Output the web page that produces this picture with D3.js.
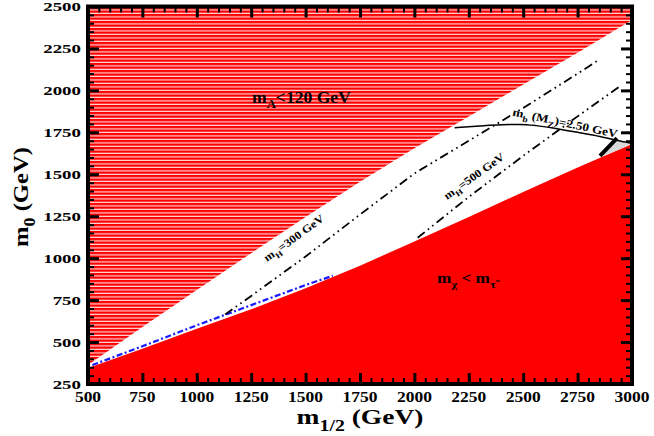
<!DOCTYPE html>
<html><head><meta charset="utf-8">
<script src="https://cdn.jsdelivr.net/npm/d3@7"></script>
<style>body{margin:0;background:#fff}</style>
</head><body><svg id="c" width="654" height="436"></svg>
<script>
// ---------- data ----------
const xTickValues = [500,750,1000,1250,1500,1750,2000,2250,2500,2750,3000];
const yTickValues = [250,500,750,1000,1250,1500,1750,2000,2250,2500];
const gridM12 = [500,750,1000,1250,1500,1750,2000,2250,2500,2750,3000];
const staulspM0 = [345,460,580,695,820,955,1100,1245,1395,1540,1680];   // m_chi < m_stau boundary
const mA120M0 = [363,590,810,1030,1245,1455,1655,1845,2035,2225,2420];  // m_A < 120 GeV boundary
const mH300M12 = [1130,1250,1500,1750,2000,2250,2500,2750,2843];
const mH300M0  = [665,775,1010,1260,1505,1700,1895,2100,2178];
const mH500M12 = [2015,2250,2500,2750,2945];
const mH500M0  = [1122,1365,1610,1845,2025];
const blueM12 = [520,750,1000,1250,1500,1625];
const blueM0  = [363,475,600,720,840,895];
const mbM12 = [2185,2300,2400,2484,2560,2655,2750,2853,2950,3000];
const mbM0  = [1778,1788,1795,1797,1790,1772,1750,1725,1697,1685];
const thickM12 = [2853,2931];
const thickM0  = [1610,1715];
const greyM12 = [2860,2930,3000,3000];
const greyM0  = [1605,1705,1686,1680];

// ---------- setup ----------
const svg = d3.select("#c");
const FONT = "'Liberation Serif','Times New Roman',serif";
const x = d3.scaleLinear().domain([500,3000]).range([88,632]);
const y = d3.scaleLinear().domain([250,2500]).range([384,6.5]);
const zip = (a,b) => a.map((v,i)=>[v,b[i]]);
const line = d3.line().x(d=>x(d[0])).y(d=>y(d[1]));

const defs = svg.append("defs");
defs.append("clipPath").attr("id","clip").append("rect")
  .attr("x",x(500)).attr("y",y(2500)).attr("width",x(3000)-x(500)).attr("height",y(250)-y(2500));
const pat = defs.append("pattern").attr("id","hatch").attr("patternUnits","userSpaceOnUse")
  .attr("width",20).attr("height",3.5);
pat.append("rect").attr("width",20).attr("height",3.5).attr("fill","#ffd8d8");
pat.append("rect").attr("width",20).attr("height",2.3).attr("fill","#ff0000");

const plot = svg.append("g").attr("clip-path","url(#clip)");

// hatched m_A < 120 region
const hatchPts = zip(gridM12, mA120M0).concat([[3000,2500],[500,2500]]);
plot.append("path").attr("d", line(hatchPts)+"Z").attr("fill","url(#hatch)");

// red m_chi < m_stau region
const redPts = zip(gridM12, staulspM0).concat([[3000,250],[500,250]]);
plot.append("path").attr("d", line(redPts)+"Z").attr("fill","#ff0000");

// grey wedge
plot.append("path").attr("d", line(zip(greyM12,greyM0))+"Z").attr("fill","#d8d8d8");

// lines
plot.append("path").attr("d", line(zip(blueM12,blueM0))).attr("fill","none")
  .attr("stroke","#1a1aff").attr("stroke-width",2.2).attr("stroke-dasharray","6,2.5,2,2.5");
plot.append("path").attr("d", line(zip(mH300M12,mH300M0))).attr("fill","none")
  .attr("stroke","#000").attr("stroke-width",1.8).attr("stroke-dasharray","9,4,1.6,4,1.6,4");
plot.append("path").attr("d", line(zip(mH500M12,mH500M0))).attr("fill","none")
  .attr("stroke","#000").attr("stroke-width",1.8).attr("stroke-dasharray","9,4,1.6,4,1.6,4");
plot.append("path").attr("d", line(zip(mbM12,mbM0).map(d=>d))).attr("fill","none")
  .attr("stroke","#000").attr("stroke-width",1.5).attr("d", d3.line().curve(d3.curveMonotoneX).x(d=>x(d[0])).y(d=>y(d[1]))(zip(mbM12,mbM0)));
plot.append("path").attr("d", line(zip(thickM12,thickM0))).attr("fill","none")
  .attr("stroke","#000").attr("stroke-width",4);

// ---------- rich text helper ----------
function rich(px, py, parts, size, opts={}) {
  const g = svg.append("g").attr("transform",
    `translate(${px},${py}) rotate(${opts.rot||0}) scale(${opts.sx||1},1)`);
  const t = g.append("text").attr("font-family",FONT).attr("font-weight","bold")
    .attr("font-size",size).attr("text-anchor",opts.anchor||"start").attr("fill","#000");
  let shift = 0;
  parts.forEach(p => {
    const s = p.sub ? size*(opts.subScale||0.72) : size;
    const target = p.sub ? size*(opts.subShift||0.32) : 0;
    t.append("tspan").attr("font-size",s).attr("dy",target-shift).text(p.t);
    shift = target;
  });
  return g;
}

// annotations
rich(x(1254), y(1925), [{t:"m"},{t:"A",sub:true},{t:"<120 GeV"}], 16, {sx:1.1});
rich(x(2104), y(852), [{t:"m"},{t:"χ",sub:true},{t:" < m"},{t:"τ̃",sub:true}], 15, {sx:1.15});
rich(x(1323), y(977), [{t:"m"},{t:"H",sub:true},{t:"=300 GeV"}], 11, {sx:1.15, rot:-36});
rich(x(2150), y(1347), [{t:"m"},{t:"H",sub:true},{t:"=500 GeV"}], 11, {sx:1.15, rot:-35.5});
rich(x(2449), y(1850), [{t:"m"},{t:"b",sub:true},{t:" (M"},{t:"Z",sub:true},{t:")=2.50 GeV"}], 11.5, {sx:1.15, rot:12});

// ---------- frame and ticks ----------
const minorX = d3.range(500,3001,50), minorY = d3.range(250,2501,50);
function ticks(axisGen, tr, vals, size, w) {
  const g = svg.append("g").attr("transform",tr)
    .call(axisGen.tickValues(vals).tickSize(size).tickFormat(""));
  g.select(".domain").remove();
  g.selectAll(".tick line").attr("stroke","#000").attr("stroke-width",w);
}
ticks(d3.axisBottom(x), `translate(0,${y(250)})`, minorX, -6, 2);
ticks(d3.axisBottom(x), `translate(0,${y(250)})`, xTickValues, -11, 3);
ticks(d3.axisTop(x), `translate(0,${y(2500)})`, minorX, -6, 2);
ticks(d3.axisTop(x), `translate(0,${y(2500)})`, xTickValues, -11, 3);
ticks(d3.axisLeft(y), `translate(${x(500)},0)`, minorY, -6, 2);
ticks(d3.axisLeft(y), `translate(${x(500)},0)`, yTickValues, -11, 3);
ticks(d3.axisRight(y), `translate(${x(3000)},0)`, minorY, -6, 2);
ticks(d3.axisRight(y), `translate(${x(3000)},0)`, yTickValues, -11, 3);

svg.append("rect").attr("x",x(500)).attr("y",y(2500))
  .attr("width",x(3000)-x(500)).attr("height",y(250)-y(2500))
  .attr("fill","none").attr("stroke","#000").attr("stroke-width",4);

// tick labels
xTickValues.forEach(v => {
  svg.append("g").attr("transform",`translate(${x(v)},402) scale(1.25,1)`)
    .append("text").attr("text-anchor","middle").attr("font-family",FONT)
    .attr("font-weight","bold").attr("font-size",14).text(v);
});
yTickValues.forEach(v => {
  svg.append("g").attr("transform",`translate(81,${y(v)+4.6}) scale(1.4,1)`)
    .append("text").attr("text-anchor","end").attr("font-family",FONT)
    .attr("font-weight","bold").attr("font-size",13.5).text(v);
});

// axis titles
rich(360, 424, [{t:"m"},{t:"1/2",sub:true},{t:" (GeV)"}], 22, {sx:1.25, anchor:"middle", subScale:0.72, subShift:0.3});
rich(28, 197, [{t:"m"},{t:"0",sub:true},{t:" (GeV)"}], 22, {sx:1.12, anchor:"middle", rot:-90, subScale:0.72, subShift:0.3});
</script></body></html>
